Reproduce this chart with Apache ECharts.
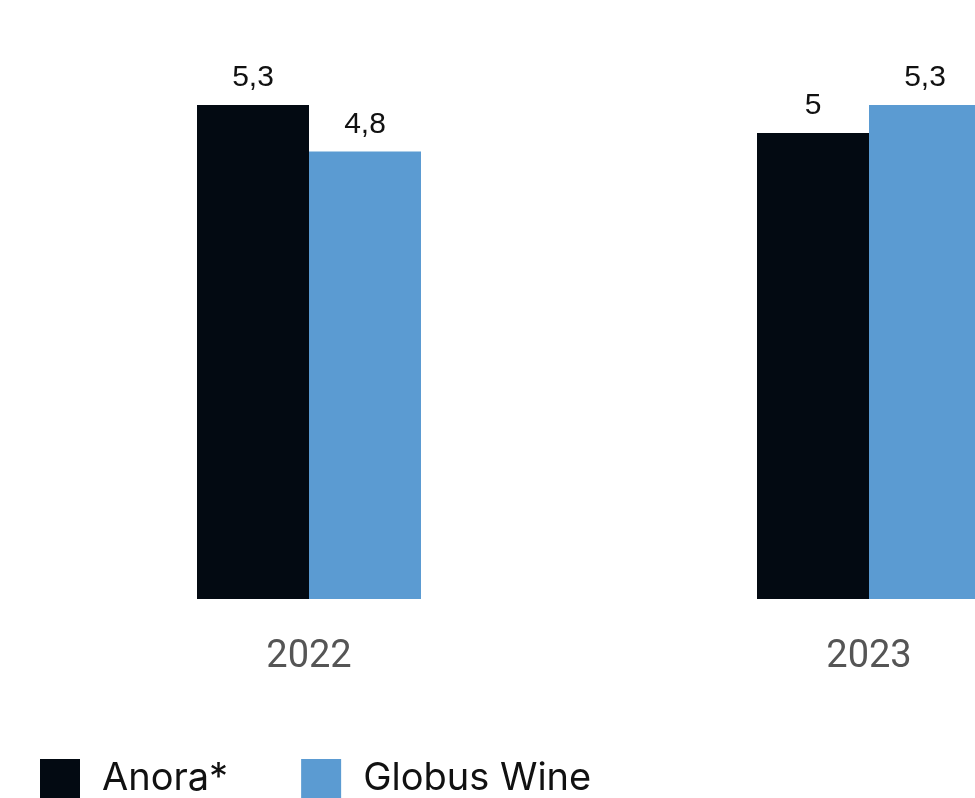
<!DOCTYPE html>
<html>
<head>
<meta charset="utf-8">
<script src="https://cdn.jsdelivr.net/npm/echarts@6/dist/echarts.min.js"></script>
<style>
  html, body { margin: 0; padding: 0; background: #fff; }
  #chart { width: 975px; height: 798px; }
</style>
</head>
<body>
<div id="chart"></div>
<script>
// данные
var years = ["2022", "2023"];
var anora = [5.3, 5.0];
var globusWine = [4.8, 5.3];
var seriesNames = ["Anora*", "Globus Wine"];

var chart = echarts.init(document.getElementById("chart"));

function labelFmt(p) {
  return String(p.value).replace(".", ",");
}

var barLabel = {
  show: true,
  position: "top",
  distance: 12,
  formatter: labelFmt,
  fontFamily: "Liberation Sans",
  fontSize: 30,
  color: "#111",
};

chart.setOption({
  animation: false,
  grid: {
    left: 29,
    top: 105,
    width: 1120,
    height: 494,
    // график шире окна, правый столбец обрезан
    outerBoundsMode: "none",
  },
  legend: {
    data: seriesNames,
    left: 35,
    top: 754,
    icon: "rect",
    itemWidth: 40,
    itemHeight: 40,
    itemGap: 73,
    textStyle: {
      fontFamily: "Inter",
      fontSize: 38,
      color: "#111",
      padding: [0, 0, 0, 17],
    },
  },
  xAxis: {
    type: "category",
    data: years,
    axisLine: { show: false },
    axisTick: { show: false },
    axisLabel: {
      fontFamily: "Roboto",
      fontSize: 38,
      color: "#555",
      margin: 39,
    },
  },
  yAxis: {
    type: "value",
    min: 0,
    max: 5.3,
    show: false,
    splitLine: { show: false },
  },
  series: [
    {
      name: seriesNames[0],
      type: "bar",
      data: anora,
      barWidth: 112,
      barGap: "0%",
      itemStyle: { color: "#030a12" },
      label: barLabel,
    },
    {
      name: seriesNames[1],
      type: "bar",
      data: globusWine,
      barWidth: 112,
      barGap: "0%",
      itemStyle: { color: "#5b9bd2" },
      label: barLabel,
    },
  ],
});
</script>
</body>
</html>
